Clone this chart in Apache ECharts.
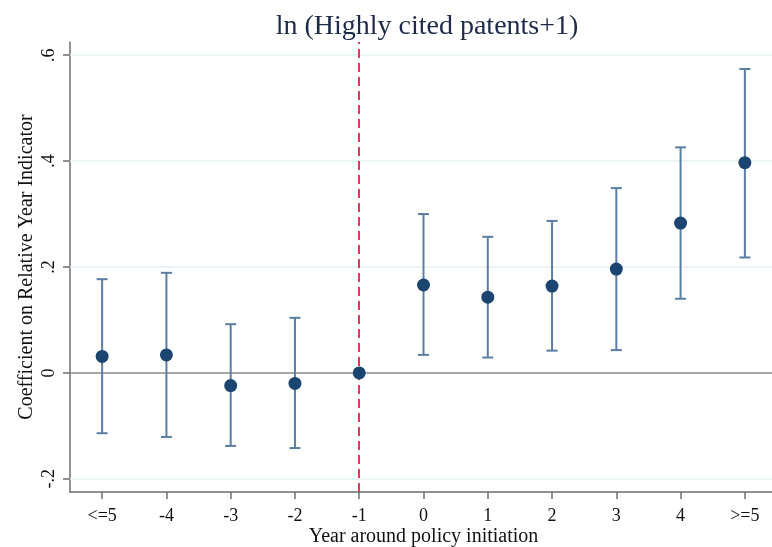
<!DOCTYPE html>
<html>
<head>
<meta charset="utf-8">
<script src="https://cdn.jsdelivr.net/npm/echarts@6/dist/echarts.min.js"></script>
<style>html,body{margin:0;padding:0;background:#fff}#c{width:772px;height:547px}</style>
</head>
<body>
<div id="c"></div>
<script>
var categories = ['<=5','-4','-3','-2','-1','0','1','2','3','4','>=5'];
var coef  = [0.031, 0.034, -0.024, -0.020, 0.000, 0.166, 0.143, 0.164, 0.196, 0.283, 0.397];
var upper = [0.177, 0.189, 0.092, 0.104, 0.000, 0.300, 0.257, 0.287, 0.349, 0.426, 0.574];
var lower = [-0.114, -0.121, -0.138, -0.142, 0.000, 0.034, 0.029, 0.042, 0.043, 0.140, 0.218];
var yTicks = [-0.2, 0, 0.2, 0.4, 0.6];

var FONT = 'Liberation Serif';
var chart = echarts.init(document.getElementById('c'), null, {renderer: 'canvas'});

function fmt(v) {
  if (Math.abs(v) < 1e-9) return '0';
  return (Math.round(v * 10) / 10).toFixed(1).replace(/^(-?)0\./, '$1.');
}

var ciData = categories.map(function (c, i) { return [i, lower[i], upper[i]]; });
var ptData = categories.map(function (c, i) { return [i, coef[i]]; });

var gridLines = yTicks.filter(function (v) { return v !== 0; }).map(function (v) {
  return {yAxis: v, lineStyle: {color: '#e6eff1', width: 1.5, type: 'solid'}};
});

chart.setOption({
  animation: false,
  title: {
    text: 'ln (Highly cited patents+1)',
    left: 422, textAlign: 'center', top: 8,
    textStyle: {fontFamily: FONT, fontSize: 28, fontWeight: 'normal', color: '#1d2a48'}
  },
  grid: {left: 70, top: 42, width: 707, bottom: 55, containLabel: false, outerBoundsMode: 'none'},
  xAxis: {
    type: 'category',
    data: categories,
    boundaryGap: true,
    name: 'Year around policy initiation',
    nameLocation: 'middle',
    nameGap: 35,
    nameMoveOverlap: false,
    nameTextStyle: {fontFamily: FONT, fontSize: 20, color: '#111'},
    axisLine: {show: true, onZero: false, lineStyle: {color: '#6e6e6e', width: 1.5}},
    axisTick: {show: true, alignWithLabel: true, length: 7, lineStyle: {color: '#6e6e6e', width: 1.5}},
    axisLabel: {fontFamily: FONT, fontSize: 18, color: '#111', margin: 15},
    splitLine: {show: false}
  },
  yAxis: {
    type: 'value',
    min: -0.225,
    max: 0.625,
    name: 'Coefficient on Relative Year Indicator',
    nameLocation: 'middle',
    nameGap: 33,
    nameMoveOverlap: false,
    nameTextStyle: {fontFamily: FONT, fontSize: 20, color: '#111'},
    axisLine: {show: true, onZero: false, lineStyle: {color: '#6e6e6e', width: 1.5}},
    axisTick: {show: true, length: 7, customValues: yTicks, lineStyle: {color: '#6e6e6e', width: 1.5}},
    axisLabel: {fontFamily: FONT, fontSize: 18, color: '#111', rotate: 90, margin: 12,
      customValues: yTicks, formatter: fmt},
    splitLine: {show: false}
  },
  series: [
    {
      type: 'custom',
      z: 3,
      data: ciData,
      renderItem: function (params, api) {
        var x = api.value(0);
        var lo = api.coord([x, api.value(1)]);
        var hi = api.coord([x, api.value(2)]);
        var hw = 5.5;
        var st = {stroke: '#5a7ea4', lineWidth: 2};
        return {
          type: 'group',
          children: [
            {type: 'line', shape: {x1: lo[0], y1: lo[1], x2: hi[0], y2: hi[1]}, style: st},
            {type: 'line', shape: {x1: lo[0] - hw, y1: lo[1], x2: lo[0] + hw, y2: lo[1]}, style: st},
            {type: 'line', shape: {x1: hi[0] - hw, y1: hi[1], x2: hi[0] + hw, y2: hi[1]}, style: st}
          ]
        };
      }
    },
    {
      type: 'scatter',
      z: 5,
      data: ptData,
      symbol: 'circle',
      symbolSize: 13,
      itemStyle: {color: '#1a4570', opacity: 1},
      markLine: {
        silent: true,
        symbol: 'none',
        label: {show: false},
        z: 1,
        data: gridLines.concat([
          {yAxis: 0, lineStyle: {color: '#8a8a8a', width: 1.5, type: 'solid'}},
          {xAxis: '-1', lineStyle: {color: '#e0385f', width: 2, type: [9, 5]}}
        ])
      }
    }
  ]
});
</script>
</body>
</html>
